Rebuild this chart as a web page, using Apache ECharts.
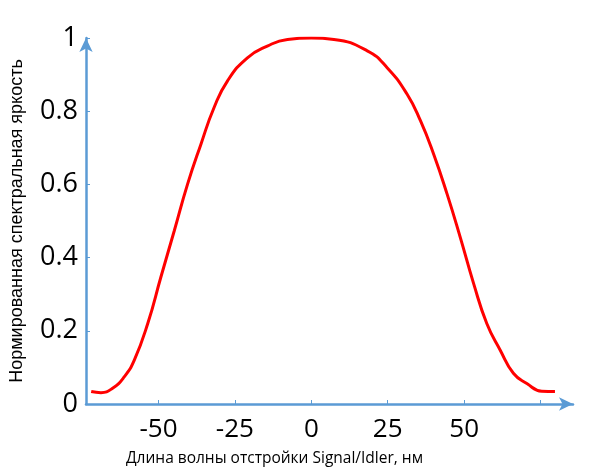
<!DOCTYPE html>
<html>
<head>
<meta charset="utf-8">
<script src="https://cdn.jsdelivr.net/npm/echarts@6/dist/echarts.min.js"></script>
<style>
  html, body { margin: 0; padding: 0; background: #fff; }
  #chart { width: 589px; height: 474px; }
</style>
</head>
<body>
<div id="chart"></div>
<script>
// детюнинг, нм
var detuning = [-72, -68.8, -65, -61.2, -57.9, -53.5, -49.2, -44.8, -40.5, -36.1, -31.8, -27.4, -20.9, -14.4, -7.8, 0,
                7.4, 18.3, 24.8, 31.3, 35.7, 40, 44.4, 48.7, 53.1, 57.4, 61.8, 66.1, 70.5, 75.4, 79.7];
// нормированная яркость
var brightness = [0.034, 0.031, 0.043, 0.074, 0.12, 0.22, 0.347, 0.474, 0.60, 0.71, 0.81, 0.883, 0.946, 0.978, 0.996, 1.0,
                  0.996, 0.965, 0.919, 0.847, 0.774, 0.683, 0.574, 0.456, 0.329, 0.22, 0.147, 0.084, 0.056, 0.035, 0.034];
var xTicks = [-50, -25, 0, 25, 50, 75];
var xLabels = [-50, -25, 0, 25, 50];

var axisColor = '#5b9bd5';
var points = [];
for (var i = 0; i < detuning.length; i++) {
    points.push([detuning[i], brightness[i]]);
}

var myChart = echarts.init(document.getElementById('chart'));
var option = {
    animation: false,
    grid: { left: 85, right: 16, top: 38, bottom: 70 },
    xAxis: {
        type: 'value',
        min: -73.7,
        max: 85.6,
        name: 'Длина волны отстройки Signal/Idler, нм',
        nameLocation: 'middle',
        nameGap: 47,
        nameTextStyle: { fontFamily: 'Open Sans', fontSize: 15.5, color: '#000', padding: [0, 110, 0, 0] },
        axisLine: { show: true, onZero: false, symbol: ['none', 'arrow'], symbolSize: [10, 14], lineStyle: { color: axisColor, width: 2.5 } },
        axisTick: { show: true, inside: true, length: 4, customValues: xTicks, lineStyle: { color: axisColor, width: 1 } },
        axisLabel: { customValues: xLabels, margin: 13, fontFamily: 'Open Sans', fontSize: 26, color: '#000' },
        splitLine: { show: false }
    },
    yAxis: {
        type: 'value',
        min: 0,
        max: 1,
        interval: 0.2,
        name: 'Нормированная спектральная яркость',
        nameLocation: 'middle',
        nameRotate: 90,
        nameGap: 60,
        nameTextStyle: { fontFamily: 'Liberation Sans', fontSize: 18, color: '#000' },
        axisLine: { show: true, onZero: false, symbol: ['none', 'arrow'], symbolSize: [10, 14], lineStyle: { color: axisColor, width: 2.5 } },
        axisTick: { show: true, inside: true, length: 4, lineStyle: { color: axisColor, width: 1 } },
        axisLabel: {
            margin: 8, fontFamily: 'Open Sans', fontSize: 27, color: '#000',
            formatter: function (v) { return String(Math.round(v * 10) / 10); }
        },
        splitLine: { show: false }
    },
    series: [{
        type: 'line',
        data: points,
        smooth: 0.5,
        showSymbol: false,
        lineStyle: { color: '#ff0000', width: 3 }
    }]
};
myChart.setOption(option);
</script>
</body>
</html>
